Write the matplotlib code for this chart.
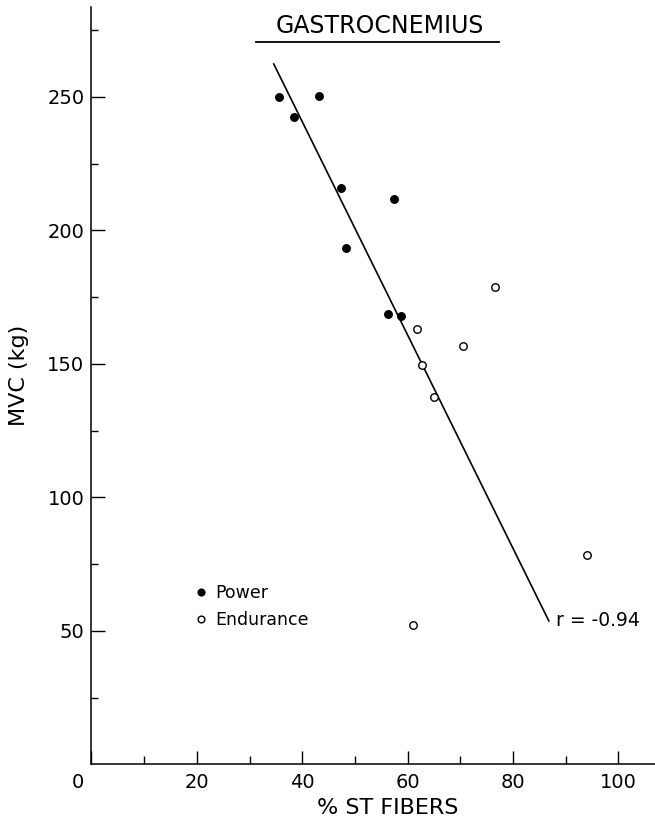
import matplotlib
matplotlib.use("Agg")
import matplotlib.pyplot as plt
import matplotlib.transforms as mtransforms
from matplotlib.lines import Line2D

# ---- data ----
power_x = [35.6, 43.1, 38.5, 47.3, 57.4, 48.4, 56.3, 58.7]
power_y = [250.0, 250.3, 242.5, 215.7, 211.6, 193.3, 168.7, 167.9]
endur_x = [61.7, 70.6, 62.8, 65.1, 76.6, 94.0, 61.0]
endur_y = [162.9, 156.7, 149.7, 137.5, 178.9, 78.3, 52.2]
fit_x = [34.6, 86.8]
fit_y = [262.3, 53.7]
r_text = "r = -0.94"
x_major = [0, 20, 40, 60, 80, 100]
x_minor = [10, 30, 50, 70, 90]
y_major = [50, 100, 150, 200, 250]
y_minor = [25, 75, 125, 175, 225, 275]

plt.rcParams['font.family'] = ['DejaVu Sans']

W, H = 655, 822
fig = plt.figure(figsize=(W / 100, H / 100), dpi=100)
ax_l, ax_r, ax_b, ax_t = 91.4, 655.0, 764.3, 7.3
ax = fig.add_axes([ax_l / W, 1 - ax_b / H, (ax_r - ax_l) / W, (ax_b - ax_t) / H])
ax.set_xlim(0, (ax_r - ax_l) / 5.27)
ax.set_ylim(0, (ax_b - ax_t) / 2.67)

for s in ("top", "right"):
    ax.spines[s].set_visible(False)
for s in ("left", "bottom"):
    ax.spines[s].set_linewidth(1.1)
    ax.spines[s].set_color("black")

ax.set_xticks(x_major)
ax.set_xticks(x_minor, minor=True)
ax.set_yticks(y_major)
ax.set_yticks(y_minor, minor=True)
ax.tick_params(which="both", direction="in", color="black", width=1.0)
ax.tick_params(axis="x", which="major", length=9.5, pad=6, labelsize=14)
ax.tick_params(axis="x", which="minor", length=5.5)
ax.tick_params(axis="y", which="major", length=10, pad=5, labelsize=14)
ax.tick_params(axis="y", which="minor", length=5)

# shift the "0" label slightly left as in the reference
lbl0 = ax.get_xticklabels()[0]
lbl0.set_transform(lbl0.get_transform() + mtransforms.ScaledTranslation(-14 / 100, 0, fig.dpi_scale_trans))

# data
ax.plot(fit_x, fit_y, color="black", lw=1.2, zorder=2)
ax.plot(power_x, power_y, "o", ms=5.4, mfc="black", mec="black", ls="none", label="Power", zorder=3)
ax.plot(endur_x, endur_y, "o", ms=5.4, mfc="white", mec="black", mew=1.0, ls="none", label="Endurance", zorder=3)

leg = ax.legend(loc="center left", bbox_to_anchor=(0.185, 0.2087), frameon=False,
                fontsize=12.5, handlelength=0.6, handletextpad=0.55, borderpad=0,
                borderaxespad=0, labelspacing=0.5, markerscale=0.9)

ax.text(88.1, 54.0, r_text, ha="left", va="center", fontsize=13.5)

# title with underline
ax.text(54.8, 276.5, "GASTROCNEMIUS", ha="center", va="center", fontsize=17)
fig.add_artist(Line2D([256 / W, 499 / W], [1 - 42 / H, 1 - 42 / H], color="black", lw=1.3,
                      transform=fig.transFigure))

ax.set_xlabel("% ST FIBERS", fontsize=16)
ax.xaxis.label.set_va("center")
ax.xaxis.set_label_coords(0.526, -0.058)
ax.set_ylabel("MVC (kg)", fontsize=16)
ax.yaxis.label.set_va("center")
ax.yaxis.set_label_coords(-0.128, 0.514)

fig.savefig("out.png", dpi=100, facecolor="white")
